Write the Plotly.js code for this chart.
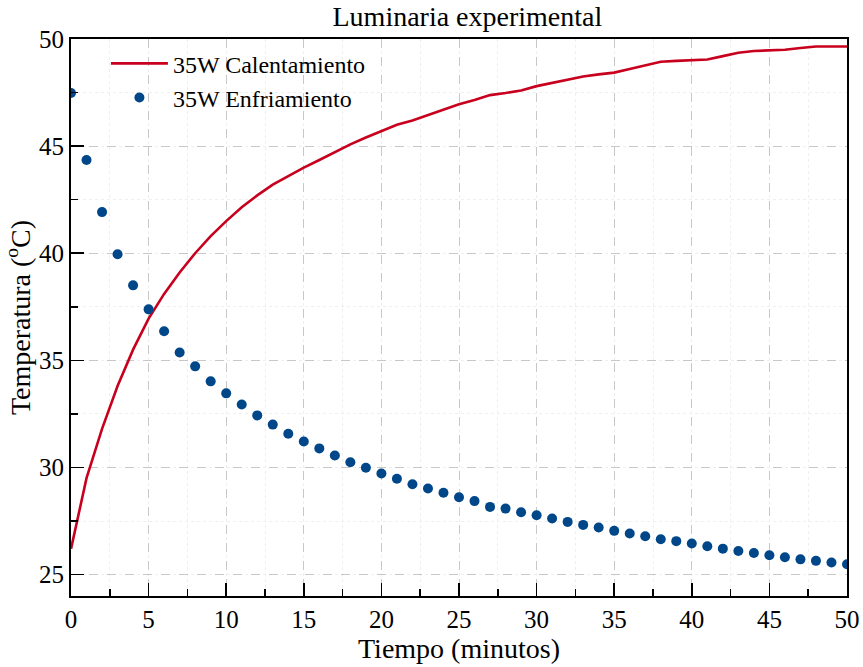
<!DOCTYPE html>
<html>
<head>
<meta charset="utf-8">
<script src="https://cdn.plot.ly/plotly-3.0.1.min.js"></script>
<style>html,body{margin:0;padding:0;background:#fff;}#chart{width:863px;height:667px;}</style>
</head>
<body>
<div id="chart"></div>
<script>
const minutes = [0,1,2,3,4,5,6,7,8,9,10,11,12,13,14,15,16,17,18,19,20,21,22,23,24,25,26,27,28,29,30,31,32,33,34,35,36,37,38,39,40,41,42,43,44,45,46,47,48,49,50];
const heating = [26.2,29.5,31.8,33.8,35.5,36.95,38.1,39.1,40.0,40.8,41.5,42.15,42.7,43.2,43.6,44.0,44.35,44.72,45.08,45.4,45.7,46.0,46.2,46.45,46.7,46.95,47.15,47.38,47.48,47.6,47.8,47.95,48.1,48.25,48.35,48.43,48.6,48.78,48.94,48.98,49.0,49.04,49.2,49.36,49.44,49.47,49.5,49.58,49.65,49.65,49.65];
const cooling = [47.48,44.35,41.92,39.95,38.5,37.38,36.36,35.37,34.72,34.02,33.46,32.94,32.43,32.0,31.57,31.21,30.89,30.56,30.24,29.99,29.72,29.47,29.22,29.02,28.82,28.61,28.43,28.16,28.08,27.91,27.77,27.62,27.46,27.32,27.2,27.04,26.92,26.79,26.65,26.56,26.45,26.32,26.21,26.1,26.01,25.9,25.81,25.71,25.64,25.56,25.48];
const seriesNames = ["35W Calentamiento","35W Enfriamiento"];
const xTicks = [0,5,10,15,20,25,30,35,40,45,50];
const yTicks = [25,30,35,40,45,50];

const font = "'Liberation Serif', 'Times New Roman', serif";
const traces = [
  {x: minutes, y: heating, name: seriesNames[0], type: "scatter", mode: "lines",
   line: {color: "#c8001e", width: 2.6}},
  {x: minutes, y: cooling, name: seriesNames[1], type: "scatter", mode: "markers",
   marker: {color: "#00478a", size: 10}}
];
const axisCommon = {
  showline: true, linecolor: "#000", linewidth: 2, mirror: true,
  ticks: "inside", ticklen: 13, tickwidth: 1.5, tickcolor: "#000",
  showgrid: true, gridcolor: "#c8c8c8", gridwidth: 1, griddash: "dash",
  zeroline: false, automargin: false,
  tickfont: {family: font, size: 25, color: "#000"},
  minor: {ticks: "inside", ticklen: 7, tickwidth: 1.5, tickcolor: "#000",
          showgrid: true, gridcolor: "#efefef", gridwidth: 1, griddash: "dot"}
};
const layout = {
  width: 863, height: 667,
  margin: {l: 71, r: 16, t: 39, b: 71},
  paper_bgcolor: "#fff", plot_bgcolor: "#fff",
  font: {family: font, color: "#000"},
  title: {text: "Luminaria experimental", font: {family: font, size: 28, color: "#000"},
          x: 0.5416, xanchor: "center", y: 0.975, yanchor: "middle"},
  xaxis: Object.assign({}, axisCommon, {
    range: [0, 50], tickvals: xTicks, ticktext: xTicks.map(String), ticklabelstandoff: 0,
    minor: Object.assign({}, axisCommon.minor, {dtick: 2.5, tick0: 0}),
    title: {text: "Tiempo (minutos)", font: {family: font, size: 28, color: "#000"}, standoff: 4}
  }),
  yaxis: Object.assign({}, axisCommon, {
    range: [24, 50], tickvals: yTicks, ticktext: yTicks.map(String),
    minor: Object.assign({}, axisCommon.minor, {dtick: 2.5, tick0: 0}),
    title: {text: "Temperatura (<sup>o</sup>C)", font: {family: font, size: 28, color: "#000"}, standoff: 0}
  }),
  showlegend: true,
  legend: {x: 0.045, y: 0.996, xanchor: "left", yanchor: "top",
           bgcolor: "rgba(255,255,255,0)", borderwidth: 0,
           font: {family: font, size: 24, color: "#000"}, itemwidth: 57, tracegroupgap: 4}
};
Plotly.newPlot("chart", traces, layout, {displayModeBar: false, staticPlot: true});
</script>
</body>
</html>
